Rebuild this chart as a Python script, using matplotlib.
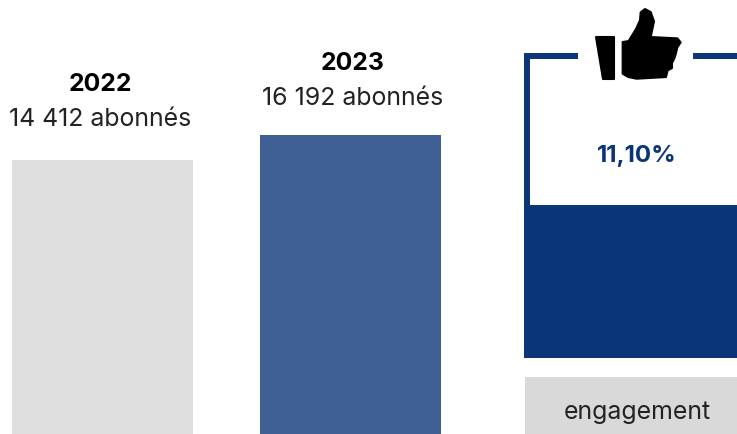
import matplotlib
matplotlib.use("Agg")
import matplotlib.pyplot as plt
from matplotlib.patches import Polygon, Rectangle

years = ["2022", "2023"]
subscribers = [14412, 16192]
subscriber_labels = ["14 412 abonnés", "16 192 abonnés"]
bar_colors = ["#dfdfdf", "#3f5f95"]
engagement = 11.10
engagement_label = "11,10%"
engagement_name = "engagement"
navy = "#0a3679"

W, H = 737, 435
plt.rcParams["font.family"] = ["Inter", "DejaVu Sans"]
fig = plt.figure(figsize=(W / 100, H / 100), dpi=100)

# overlay in pixels, for frame, icon and label box
ax = fig.add_axes([0, 0, 1, 1])
ax.set_xlim(0, W)
ax.set_ylim(H - 0.7, -0.7)
ax.axis("off")

# subscriber bars: the y scale is set so the two tops land where they do in the picture
bars = fig.add_axes([0, 0, 1, 1])
bars.patch.set_alpha(0)
bars.axis("off")
per_px = (subscribers[1] - subscribers[0]) / 25.0
bars.set_ylim(subscribers[0] - (H - 160.7) * per_px, subscribers[0] + 160.7 * per_px)
bars.set_xlim(-102.5 / 248, (W - 102.5) / 248)
bars.bar(range(2), [s - bars.get_ylim()[0] for s in subscribers], width=0.73,
         bottom=bars.get_ylim()[0], color=bar_colors)
title_offsets = [76, 72]
label_offsets = [41, 37]
text_shift = [-2, 2]
for i in range(2):
    bars.annotate(years[i], (i, subscribers[i]), xytext=(text_shift[i], title_offsets[i]), textcoords="offset pixels",
                  ha="center", va="center", fontsize=17.8, fontweight="bold", color="black")
    bars.annotate(subscriber_labels[i], (i, subscribers[i]), xytext=(text_shift[i], label_offsets[i]), textcoords="offset pixels",
                  ha="center", va="center", fontsize=17.9, color="#222222")

# engagement panel
left, top, bottom = 524, 56, 358.7
panel = fig.add_axes([left / W, 1 - bottom / H, (W - left) / W, (bottom - top) / H])
panel.patch.set_alpha(0)
panel.axis("off")
panel.set_xlim(0, 1)
panel.set_ylim(0, 22)
panel.bar([0.5], [engagement], width=1, color=navy)

ax.plot([578, 527, 527], [56, 56, 358], color=navy, lw=4.3, solid_joinstyle="miter", solid_capstyle="butt")
ax.plot([693, 737], [56, 56], color=navy, lw=4.3, solid_capstyle="butt")
ax.text(637, 155, engagement_label, ha="center", va="center", fontsize=17.4, fontweight="bold", color=navy)

ax.add_patch(Rectangle((525, 377), W - 525, H - 377, color="#d9d9d9", lw=0))
ax.text(637, 412, engagement_name, ha="center", va="center", fontsize=17.9, color="#222222")

cuff = [(288, 112), (342, 112), (342, 237), (308, 237)]
hand = [(368, 127), (386, 124), (408, 88), (420, 62), (422, 38), (435, 28), (452, 37), (462, 65),
        (452, 112), (532, 116), (542, 128), (532, 143), (528, 160), (523, 176), (516, 190),
        (516, 205), (503, 212), (498, 232), (410, 237), (385, 232), (368, 222)]
for shape in (cuff, hand):
    ax.add_patch(Polygon([(500 + x / 3, y / 3) for x, y in shape], fc="black", ec="black", lw=1.5, joinstyle="round"))

fig.savefig("out.png", dpi=100)
